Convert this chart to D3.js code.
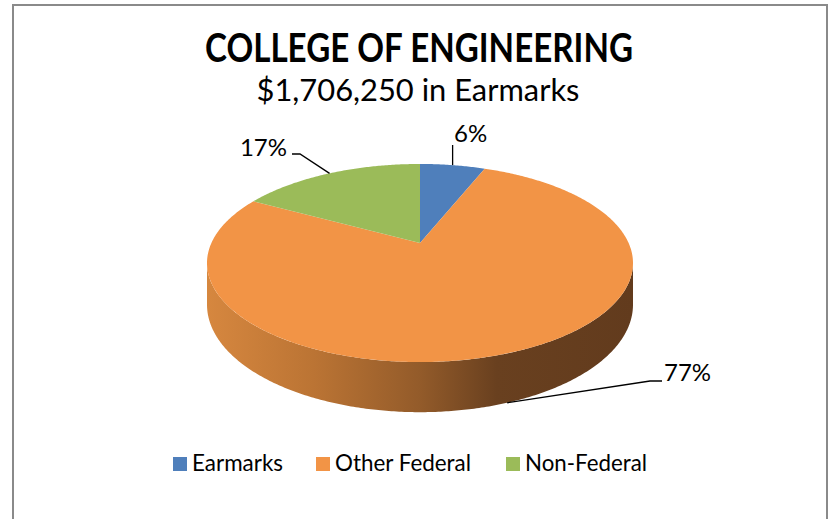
<!DOCTYPE html>
<html>
<head>
<meta charset="utf-8">
<script src="https://cdn.jsdelivr.net/npm/d3@7"></script>
<style>
  html, body { margin: 0; padding: 0; background: #fff; }
  svg { display: block; font-family: Lato, "Open Sans", sans-serif; }
</style>
</head>
<body>
<svg id="chart" width="831" height="519"></svg>
<script>
const categories = ['Earmarks', 'Other Federal', 'Non-Federal'];
const shares = [6, 77, 17];
const sliceColors = ['#4f7fbb', '#f29446', '#9bbb59'];
const titleText = 'COLLEGE OF ENGINEERING';
const subtitleText = '$1,706,250 in Earmarks';

const width = 831, height = 519;
const svg = d3.select('#chart');

// frame
svg.append('rect')
    .attr('x', 13).attr('y', 5)
    .attr('width', 814).attr('height', 540)
    .attr('fill', '#fff')
    .attr('stroke', '#8a8a8a')
    .attr('stroke-width', 2);

// title
svg.append('text')
    .attr('x', 419).attr('y', 62)
    .attr('text-anchor', 'middle')
    .attr('font-size', 40).attr('font-weight', 700)
    .attr('textLength', 428).attr('lengthAdjust', 'spacingAndGlyphs')
    .text(titleText);
svg.append('text')
    .attr('x', 418).attr('y', 101)
    .attr('text-anchor', 'middle')
    .attr('font-size', 30)
    .attr('textLength', 323).attr('lengthAdjust', 'spacingAndGlyphs')
    .text(subtitleText);

// 3d pie with perspective: the disc is tilted away from the viewer
const cx = 420, cy = 243;   // projected centre of the disc
const rx = 208.6, ry = 95;  // radius scales
const persp = 0.202;        // depth shrink
const depth = 40;           // thickness

const project = (a, h = 0) => {
    const u = Math.sin(a), v = Math.cos(a);
    const w = 1 + persp * v;
    return [cx + rx * u / w, cy + (-ry * v + h) / w];
};

const arcPoints = (a0, a1, h) => {
    const n = Math.max(2, Math.ceil(Math.abs(a1 - a0) / 0.01));
    return d3.range(n + 1).map(i => project(a0 + (a1 - a0) * i / n, h));
};

const pie = d3.pie().sort(null).value(d => d)(shares);
const line = d3.line();
const grad = svg.append('defs').append('linearGradient')
    .attr('id', 'side')
    .attr('gradientUnits', 'userSpaceOnUse')
    .attr('x1', 207).attr('x2', 633).attr('y1', 0).attr('y2', 0);
[['0%', '#d6873f'], ['25%', '#bb7434'], ['50%', '#935b2a'], ['68%', '#69401f'], ['100%', '#623b1d']]
    .forEach(s => grad.append('stop').attr('offset', s[0]).attr('stop-color', s[1]));

// front wall, visible between the two silhouette angles
const silL = Math.acos(-persp), silR = 2 * Math.PI - Math.acos(-persp);
pie.forEach(s => {
    const a0 = Math.max(s.startAngle, silL), a1 = Math.min(s.endAngle, silR);
    if (a1 <= a0) return;
    const pts = arcPoints(a0, a1, 0).concat(arcPoints(a1, a0, depth));
    svg.append('path')
        .attr('d', line(pts) + 'Z')
        .attr('fill', s.index === 1 ? 'url(#side)' : d3.color(sliceColors[s.index]).darker(1.2));
});

// top faces
svg.selectAll('.slice').data(pie).enter().append('path')
    .attr('class', 'slice')
    .attr('d', d => line([[cx, cy]].concat(arcPoints(d.startAngle, d.endAngle, 0))) + 'Z')
    .attr('fill', d => sliceColors[d.index]);

// data labels with leader lines
const labelSpots = [
    { x: 454, y: 142, anchor: 'start', leg: (p) => [p, [p[0], 145]] },
    { x: 664, y: 381, anchor: 'start', leg: (p) => [p, [650, 381], [662, 381]], bottom: true },
    { x: 287, y: 156, anchor: 'end', leg: (p) => [p, [300, 154], [292, 154]] }
];
pie.forEach(s => {
    const spot = labelSpots[s.index];
    const mid = (s.startAngle + s.endAngle) / 2;
    const p = project(mid, spot.bottom ? depth : 0);
    svg.append('path')
        .attr('d', line(spot.leg(p)))
        .attr('fill', 'none').attr('stroke', '#000').attr('stroke-width', 1.3);
    svg.append('text')
        .attr('x', spot.x).attr('y', spot.y)
        .attr('text-anchor', spot.anchor)
        .attr('font-size', 24)
        .text(d3.format('.0%')(s.data / d3.sum(shares)));
});

// legend
const legendX = [173, 316, 506];
const legendTextWidth = [91, 136, 122];
categories.forEach((c, i) => {
    svg.append('rect')
        .attr('x', legendX[i]).attr('y', 457)
        .attr('width', 14).attr('height', 14)
        .attr('fill', sliceColors[i]);
    svg.append('text')
        .attr('x', legendX[i] + 19).attr('y', 471)
        .attr('font-size', 24)
        .attr('textLength', legendTextWidth[i]).attr('lengthAdjust', 'spacingAndGlyphs')
        .text(c);
});
</script>
</body>
</html>
